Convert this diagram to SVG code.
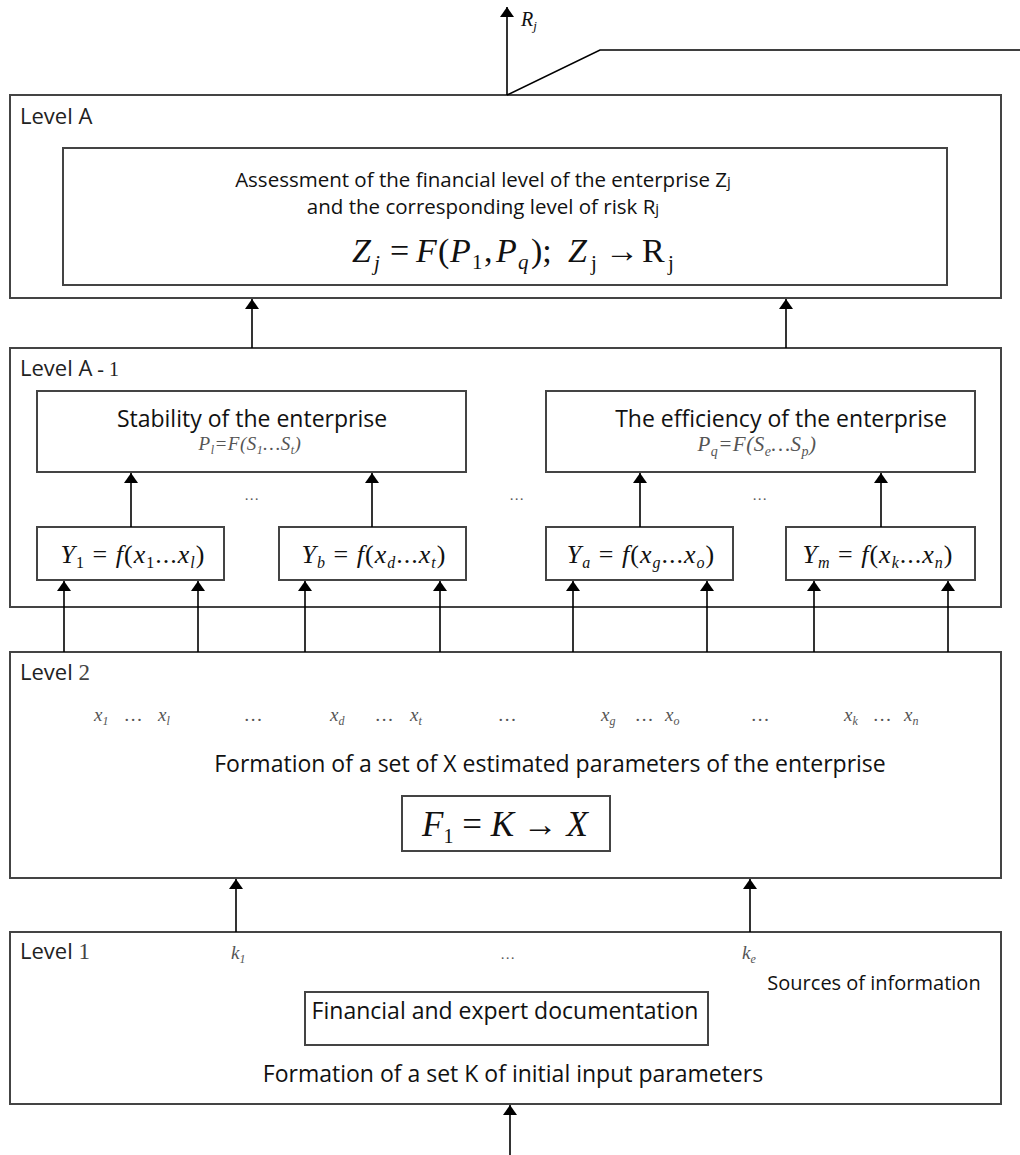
<svg xmlns="http://www.w3.org/2000/svg" width="1020" height="1155" viewBox="0 0 1020 1155">
<defs>
<marker id="ah" viewBox="0 0 10 20" refX="10" refY="10" markerWidth="10" markerHeight="20" markerUnits="userSpaceOnUse" orient="auto">
<path d="M0,3 L10,10 L0,17 Z" fill="#000"/>
</marker>
<style>
.box{fill:#fff;stroke:#444;stroke-width:2}
.ln{stroke:#000;stroke-width:1.6;fill:none}
.arr{stroke:#000;stroke-width:1.6;fill:none;marker-end:url(#ah)}
.t{font-family:"Open Sans","Liberation Sans",sans-serif;font-size:23px;fill:#111}
.lv{font-family:"Open Sans","Liberation Sans",sans-serif;font-size:22px;fill:#222}
.m{font-family:"Liberation Serif",serif;font-style:italic;fill:#111}
.ms{font-family:"Liberation Serif",serif;font-style:italic;font-size:19px;fill:#555}
.u{font-style:normal}
</style>
</defs>
<rect width="1020" height="1155" fill="#fff"/>

<g id="levelA">
<rect class="box" x="10" y="95" width="991" height="203"/>
<text class="lv" x="20" y="124">Level A</text>
<rect class="box" x="63" y="148" width="884" height="137"/>
<text class="t" x="483" y="187" text-anchor="middle" style="font-size:20.5px">Assessment of the financial level of the enterprise Z<tspan style="font-size:15px">j</tspan></text>
<text class="t" x="483" y="214" text-anchor="middle" style="font-size:20.5px">and the corresponding level of risk R<tspan style="font-size:15px">j</tspan></text>
<text class="m" style="font-size:34px" y="262"><tspan x="352">Z</tspan><tspan x="374" y="270" style="font-size:21px">j</tspan><tspan class="u" x="390" y="262">=</tspan><tspan x="416">F</tspan><tspan class="u" x="438">(</tspan><tspan x="450">P</tspan><tspan class="u" x="472" y="269" style="font-size:21px">1</tspan><tspan class="u" x="484" y="262">,</tspan><tspan x="496">P</tspan><tspan x="518" y="269" style="font-size:21px">q</tspan><tspan class="u" x="531" y="262">);</tspan><tspan x="568">Z</tspan><tspan class="u" x="591" y="270" style="font-size:21px">j</tspan><tspan class="u" x="605" y="262">→</tspan><tspan class="u" x="642">R</tspan><tspan class="u" x="668" y="270" style="font-size:21px">j</tspan></text>
</g>

<g id="levelA1">
<rect class="box" x="10" y="348" width="991" height="259"/>
<text class="lv" x="20" y="376">Level A<tspan style="font-family:'Liberation Serif',serif;font-size:20px"> - 1</tspan></text>
</g>
<g id="stability">
<rect class="box" x="37" y="391" width="429" height="81"/>
<text class="t" x="252" y="427" text-anchor="middle">Stability of the enterprise</text>
<text class="ms" x="250" y="450" text-anchor="middle" letter-spacing="0.5">P<tspan style="font-size:12px" dy="4">l</tspan><tspan dy="-4">=F(S</tspan><tspan style="font-size:12px" dy="4">1</tspan><tspan dy="-4">…S</tspan><tspan style="font-size:12px" dy="4">t</tspan><tspan dy="-4">)</tspan></text>
</g>
<g id="efficiency">
<rect class="box" x="546" y="391" width="429" height="81"/>
<text class="t" x="781" y="427" text-anchor="middle">The efficiency of the enterprise</text>
<text class="ms" x="757" y="451" text-anchor="middle" style="font-size:21px" letter-spacing="0.5">P<tspan style="font-size:14px" dy="5">q</tspan><tspan dy="-5">=F(S</tspan><tspan style="font-size:14px" dy="5">e</tspan><tspan dy="-5">…S</tspan><tspan style="font-size:14px" dy="5">p</tspan><tspan dy="-5">)</tspan></text>
</g>
<g id="y1">
<rect class="box" x="37" y="527" width="187" height="53"/>
<text class="m" x="133" y="563" style="font-size:26px" text-anchor="middle" letter-spacing="1">Y<tspan class="u" style="font-size:16px" dy="5">1</tspan><tspan class="u" dy="-5"> = </tspan>f<tspan class="u">(</tspan>x<tspan class="u" style="font-size:16px" dy="5">1</tspan><tspan class="u" dy="-5">...</tspan>x<tspan style="font-size:16px" dy="5">l</tspan><tspan class="u" dy="-5">)</tspan></text>
</g>
<g id="yb">
<rect class="box" x="279" y="527" width="187" height="53"/>
<text class="m" x="374" y="563" style="font-size:26px" text-anchor="middle" letter-spacing="1">Y<tspan style="font-size:16px" dy="5">b</tspan><tspan class="u" dy="-5"> = </tspan>f<tspan class="u">(</tspan>x<tspan style="font-size:16px" dy="5">d</tspan><tspan class="u" dy="-5">...</tspan>x<tspan style="font-size:16px" dy="5">t</tspan><tspan class="u" dy="-5">)</tspan></text>
</g>
<g id="ya">
<rect class="box" x="546" y="527" width="187" height="53"/>
<text class="m" x="641" y="563" style="font-size:26px" text-anchor="middle" letter-spacing="1">Y<tspan style="font-size:16px" dy="5">a</tspan><tspan class="u" dy="-5"> = </tspan>f<tspan class="u">(</tspan>x<tspan style="font-size:16px" dy="5">g</tspan><tspan class="u" dy="-5">...</tspan>x<tspan style="font-size:16px" dy="5">o</tspan><tspan class="u" dy="-5">)</tspan></text>
</g>
<g id="ym">
<rect class="box" x="786" y="527" width="189" height="53"/>
<text class="m" x="878" y="563" style="font-size:26px" text-anchor="middle" letter-spacing="1">Y<tspan style="font-size:16px" dy="5">m</tspan><tspan class="u" dy="-5"> = </tspan>f<tspan class="u">(</tspan>x<tspan style="font-size:16px" dy="5">k</tspan><tspan class="u" dy="-5">...</tspan>x<tspan style="font-size:16px" dy="5">n</tspan><tspan class="u" dy="-5">)</tspan></text>
</g>
<g id="dotsA1">
<text class="ms" x="252" y="500" style="font-size:15px" text-anchor="middle">…</text>
<text class="ms" x="517" y="500" style="font-size:15px" text-anchor="middle">…</text>
<text class="ms" x="760" y="500" style="font-size:15px" text-anchor="middle">…</text>
</g>

<g id="level2">
<rect class="box" x="10" y="652" width="991" height="226"/>
<text class="lv" x="20" y="680">Level <tspan style="font-family:'Liberation Serif',serif;font-size:23px;fill:#444">2</tspan></text>
<text class="ms" x="94" y="721">x<tspan style="font-size:12px" dy="4">1</tspan></text>
<text class="ms" x="125" y="721">…</text>
<text class="ms" x="158" y="721">x<tspan style="font-size:12px" dy="4">l</tspan></text>
<text class="ms" x="245" y="721">…</text>
<text class="ms" x="330" y="721">x<tspan style="font-size:12px" dy="4">d</tspan></text>
<text class="ms" x="376" y="721">…</text>
<text class="ms" x="410" y="721">x<tspan style="font-size:12px" dy="4">t</tspan></text>
<text class="ms" x="499" y="721">…</text>
<text class="ms" x="601" y="721">x<tspan style="font-size:12px" dy="4">g</tspan></text>
<text class="ms" x="636" y="721">…</text>
<text class="ms" x="665" y="721">x<tspan style="font-size:12px" dy="4">o</tspan></text>
<text class="ms" x="752" y="721">…</text>
<text class="ms" x="844" y="721">x<tspan style="font-size:12px" dy="4">k</tspan></text>
<text class="ms" x="874" y="721">…</text>
<text class="ms" x="904" y="721">x<tspan style="font-size:12px" dy="4">n</tspan></text>
<text class="t" x="550" y="772" text-anchor="middle">Formation of a set of X estimated parameters of the enterprise</text>
</g>
<g id="f1">
<rect class="box" x="402" y="796" width="208" height="55"/>
<text class="m" x="505" y="836" style="font-size:35px" text-anchor="middle">F<tspan class="u" style="font-size:20px" dy="7">1</tspan><tspan class="u" dy="-7"> = </tspan>K<tspan class="u"> → </tspan>X</text>
</g>

<g id="level1">
<rect class="box" x="10" y="932" width="991" height="172"/>
<text class="lv" x="20" y="959">Level <tspan style="font-family:'Liberation Serif',serif;font-size:23px;fill:#444">1</tspan></text>
<text class="ms" x="231" y="959">k<tspan style="font-size:12px" dy="4">1</tspan></text>
<text class="ms" x="508" y="959" style="font-size:15px" text-anchor="middle">…</text>
<text class="ms" x="742" y="959">k<tspan style="font-size:12px" dy="4">e</tspan></text>
<text class="t" x="874" y="990" text-anchor="middle" style="font-size:20px">Sources of information</text>
<text class="t" x="513" y="1082" text-anchor="middle">Formation of a set K of initial input parameters</text>
</g>
<g id="docs">
<rect class="box" x="305" y="992" width="403" height="53"/>
<text class="t" x="505" y="1019" text-anchor="middle">Financial and expert documentation</text>
</g>

<g id="output">
<polyline class="ln" points="507,95 600,50 1020,50"/>
<text class="m" x="521" y="26" style="font-size:20px">R<tspan style="font-size:13px" dy="4">j</tspan></text>
</g>

<g id="connectors">
<line class="arr" x1="507" y1="95" x2="507" y2="7"/>
<line class="arr" x1="252" y1="348" x2="252" y2="299"/>
<line class="arr" x1="786" y1="348" x2="786" y2="299"/>
<line class="arr" x1="131" y1="527" x2="131" y2="473"/>
<line class="arr" x1="372" y1="527" x2="372" y2="473"/>
<line class="arr" x1="640" y1="527" x2="640" y2="473"/>
<line class="arr" x1="881" y1="527" x2="881" y2="473"/>
<line class="arr" x1="64" y1="652" x2="64" y2="581"/>
<line class="arr" x1="198" y1="652" x2="198" y2="581"/>
<line class="arr" x1="305" y1="652" x2="305" y2="581"/>
<line class="arr" x1="440" y1="652" x2="440" y2="581"/>
<line class="arr" x1="573" y1="652" x2="573" y2="581"/>
<line class="arr" x1="707" y1="652" x2="707" y2="581"/>
<line class="arr" x1="814" y1="652" x2="814" y2="581"/>
<line class="arr" x1="948" y1="652" x2="948" y2="581"/>
<line class="arr" x1="236" y1="932" x2="236" y2="879"/>
<line class="arr" x1="750" y1="932" x2="750" y2="879"/>
<line class="arr" x1="510" y1="1155" x2="510" y2="1105"/>
</g>
</svg>
